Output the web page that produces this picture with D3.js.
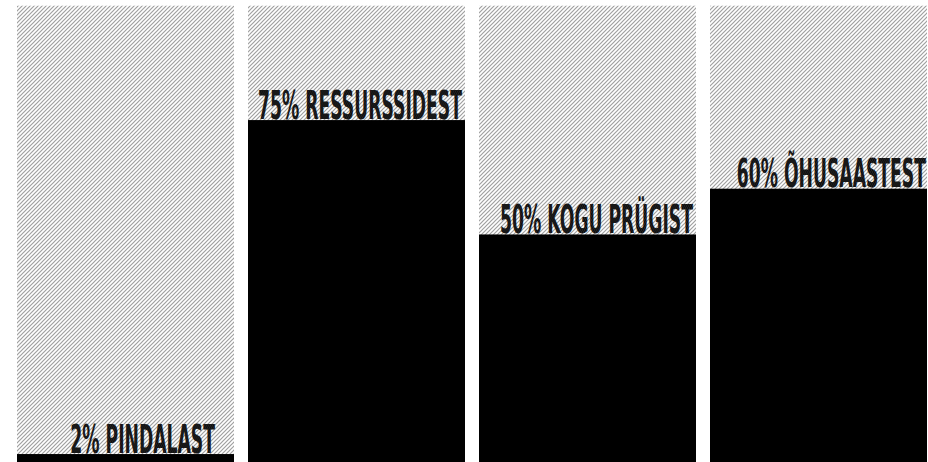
<!DOCTYPE html>
<html>
<head>
<meta charset="utf-8">
<script src="https://cdn.jsdelivr.net/npm/d3@7"></script>
<style>
  html, body { margin: 0; padding: 0; background: #fff; overflow: hidden; }
  svg { display: block; }
</style>
</head>
<body>
<svg id="chart" width="928" height="462"></svg>
<script>
const categories = ["PINDALAST", "RESSURSSIDEST", "KOGU PRÜGIST", "ÕHUSAASTEST"];
const values = [2, 75, 50, 60];

const width = 928, height = 462;
const svg = d3.select("#chart");

const defs = svg.append("defs");
const pat = defs.append("pattern")
  .attr("id", "hatch")
  .attr("patternUnits", "userSpaceOnUse")
  .attr("width", 4).attr("height", 4);
pat.append("rect").attr("width", 4).attr("height", 4).attr("fill", "#fff");
pat.append("path")
  .attr("d", "M-1,1 L1,-1 M0,4 L4,0 M3,5 L5,3")
  .attr("stroke", "#a0a0a0").attr("stroke-width", 1.2);

const pat2 = defs.append("pattern")
  .attr("id", "hatchText")
  .attr("patternUnits", "userSpaceOnUse")
  .attr("width", 4).attr("height", 4);
pat2.append("path")
  .attr("d", "M-1,1 L1,-1 M0,4 L4,0 M3,5 L5,3")
  .attr("stroke", "#fff").attr("stroke-opacity", 0.25).attr("stroke-width", 1);

const x = d3.scaleBand()
  .domain(categories)
  .range([17, 927])
  .paddingInner(14 / 231)
  .paddingOuter(0);

const y = d3.scaleLinear().domain([0, 100]).range([463.2, 5.7]);

const data = categories.map((c, i) => ({ cat: c, value: values[i] }));

const g = svg.selectAll("g.panel").data(data).join("g").attr("class", "panel");

g.append("rect")
  .attr("x", d => x(d.cat))
  .attr("y", y(100))
  .attr("width", x.bandwidth())
  .attr("height", y(0) - y(100))
  .attr("fill", "url(#hatch)");

g.append("rect")
  .attr("x", d => x(d.cat))
  .attr("y", d => y(d.value))
  .attr("width", x.bandwidth())
  .attr("height", d => y(0) - y(d.value))
  .attr("fill", "#000");

const fontFamily = "'DejaVu Sans Condensed', 'Liberation Sans Narrow', 'Liberation Sans', sans-serif";
function addLabels(fill) {
  return g.append("text")
    .attr("text-anchor", "end")
    .attr("font-family", fontFamily)
    .attr("font-weight", "bold")
    .attr("font-size", 39)
    .attr("fill", fill)
    .text(d => d.value + "% " + d.cat);
}
const labels = addLabels("#000");
const overlay = addLabels("url(#hatchText)");

const natural = labels.nodes()[1].getComputedTextLength();
const sx = 204 / natural;

function place(sel) {
  sel.attr("transform", (d, i) => {
    const inset = i === 0 ? 19 : (i === 3 ? 1 : 3);
    const tx = x(d.cat) + x.bandwidth() - inset;
    const ty = y(d.value) - 1.5;
    return `translate(${tx},${ty}) scale(${sx},1)`;
  });
}
place(labels);
place(overlay);
</script>
</body>
</html>
